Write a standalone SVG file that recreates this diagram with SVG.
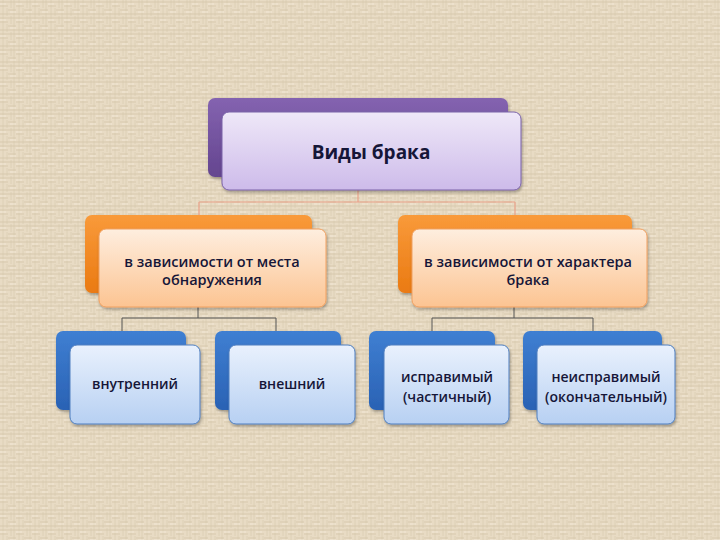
<svg xmlns="http://www.w3.org/2000/svg" width="720" height="540" viewBox="0 0 720 540">
<defs>
<pattern id="tex" width="16" height="16" patternUnits="userSpaceOnUse">
<rect width="16" height="16" fill="#e8dbc4"/>
<path d="M0 2H16M0 6H8M8 10H16M0 14H16" stroke="#cbb99c" stroke-width="1" opacity="0.55"/>
<path d="M3 0V16M11 0V8M7 8V16M14 0V16" stroke="#d6c6ab" stroke-width="1" opacity="0.6"/>
<path d="M0 4H6M10 12H16" stroke="#f4ead8" stroke-width="1" opacity="0.8"/>
</pattern>
<linearGradient id="gPurF" x1="0" y1="0" x2="0" y2="1"><stop offset="0" stop-color="#efe8f8"/><stop offset="1" stop-color="#cdbbea"/></linearGradient>
<linearGradient id="gPurB" x1="0" y1="0" x2="0" y2="1"><stop offset="0" stop-color="#8463b0"/><stop offset="1" stop-color="#64458f"/></linearGradient>
<linearGradient id="gOrF" x1="0" y1="0" x2="0" y2="1"><stop offset="0" stop-color="#feeedf"/><stop offset="1" stop-color="#fcc492"/></linearGradient>
<linearGradient id="gOrB" x1="0" y1="0" x2="0" y2="1"><stop offset="0" stop-color="#f99a3a"/><stop offset="1" stop-color="#ea7a12"/></linearGradient>
<linearGradient id="gBlF" x1="0" y1="0" x2="0" y2="1"><stop offset="0" stop-color="#e9f1fd"/><stop offset="1" stop-color="#b7d0f2"/></linearGradient>
<linearGradient id="gBlB" x1="0" y1="0" x2="0" y2="1"><stop offset="0" stop-color="#3f7fd2"/><stop offset="1" stop-color="#2a62b4"/></linearGradient>
<filter id="sh" x="-10%" y="-10%" width="125%" height="130%"><feDropShadow dx="1" dy="2" stdDeviation="1.5" flood-color="#000" flood-opacity="0.3"/></filter>
</defs>
<style>
.pb{fill:url(#gPurB)}
.pf{fill:url(#gPurF);stroke:#7a62a8;stroke-width:1}
.ob{fill:url(#gOrB)}
.of{fill:url(#gOrF);stroke:#f0a060;stroke-width:1}
.bb{fill:url(#gBlB)}
.bf{fill:url(#gBlF);stroke:#4f7fc0;stroke-width:1}
text{font-family:"Open Sans","Liberation Sans",sans-serif;fill:#161638;text-anchor:middle}
.t1{font-size:19px;font-weight:bold}
.t2{font-size:14.5px;font-weight:600}
.t3{font-size:14px;font-weight:600}
.c1{fill:none;stroke:#eaa28a;stroke-width:1.2}
.c2{fill:none;stroke:#555;stroke-width:1}
</style>
<rect width="720" height="540" fill="url(#tex)"/>
<g id="connectors">
<path class="c1" d="M358 190V202M199 202H515M199 202V215M515 202V215"/>
<path class="c2" d="M198 307V318M122 318H276M122 318V331M276 318V331"/>
<path class="c2" d="M514 307V318M432 318H593M432 318V331M593 318V331"/>
</g>
<g id="node-root">
<rect class="pb" x="208" y="98" width="300" height="79" rx="7" filter="url(#sh)"/>
<rect class="pf" x="222" y="112" width="299" height="78" rx="7" filter="url(#sh)"/>
<text class="t1" x="371" y="159">Виды брака</text>
</g>
<g id="node-place">
<rect class="ob" x="85" y="215" width="227" height="78" rx="7" filter="url(#sh)"/>
<rect class="of" x="99" y="229" width="227" height="78" rx="7" filter="url(#sh)"/>
<text class="t2" x="212" y="267">в зависимости от места</text>
<text class="t2" x="212" y="285">обнаружения</text>
</g>
<g id="node-character">
<rect class="ob" x="398" y="215" width="234" height="78" rx="7" filter="url(#sh)"/>
<rect class="of" x="412" y="229" width="235" height="78" rx="7" filter="url(#sh)"/>
<text class="t2" x="528" y="267">в зависимости от характера</text>
<text class="t2" x="528" y="285">брака</text>
</g>
<g id="node-internal">
<rect class="bb" x="56" y="331" width="130" height="79" rx="7" filter="url(#sh)"/>
<rect class="bf" x="70" y="345" width="130" height="79" rx="7" filter="url(#sh)"/>
<text class="t3" x="135" y="389">внутренний</text>
</g>
<g id="node-external">
<rect class="bb" x="215" y="331" width="126" height="79" rx="7" filter="url(#sh)"/>
<rect class="bf" x="229" y="345" width="126" height="79" rx="7" filter="url(#sh)"/>
<text class="t3" x="292" y="389">внешний</text>
</g>
<g id="node-fixable">
<rect class="bb" x="369" y="331" width="126" height="79" rx="7" filter="url(#sh)"/>
<rect class="bf" x="384" y="345" width="125" height="79" rx="7" filter="url(#sh)"/>
<text class="t3" x="447" y="382">исправимый</text>
<text class="t3" x="447" y="402">(частичный)</text>
</g>
<g id="node-unfixable">
<rect class="bb" x="523" y="331" width="139" height="79" rx="7" filter="url(#sh)"/>
<rect class="bf" x="537" y="345" width="138" height="79" rx="7" filter="url(#sh)"/>
<text class="t3" x="606" y="382">неисправимый</text>
<text class="t3" x="606" y="402">(окончательный)</text>
</g>
</svg>
